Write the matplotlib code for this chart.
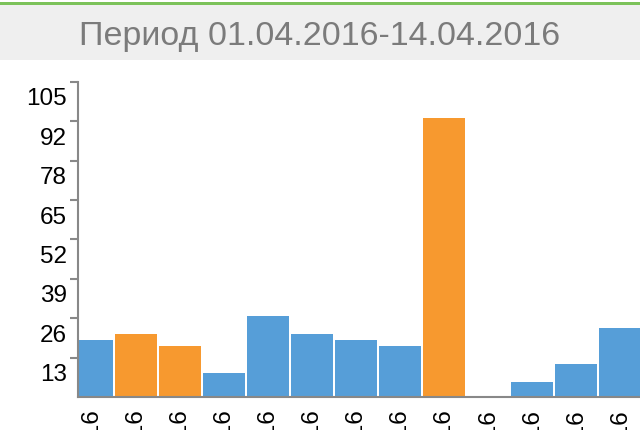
import matplotlib
matplotlib.use('Agg')
import matplotlib.pyplot as plt
from matplotlib.patches import Rectangle
from matplotlib.transforms import ScaledTranslation
import numpy as np

plt.rcParams['font.family'] = ['Liberation Sans', 'DejaVu Sans']

# Data
title = 'Период 01.04.2016-14.04.2016'
dates = ['01.04.16', '02.04.16', '03.04.16', '04.04.16', '05.04.16', '06.04.16', '07.04.16',
         '08.04.16', '09.04.16', '10.04.16', '11.04.16', '12.04.16', '13.04.16']
values = [19, 21, 17, 8, 27, 21, 19, 17, 93, 0, 5, 11, 23]
weekend = [False, True, True, False, False, False, False, False, True, False, False, False, False]
y_max = 105
y_tick_labels = ['13', '26', '39', '52', '65', '78', '92', '105']

blue = '#569ed8'
orange = '#f7992f'
axis_gray = '#888888'

W, H = 640, 430
fig = plt.figure(figsize=(W / 100, H / 100), dpi=100)

# header band with green line on top
fig.patches.append(Rectangle((0, 1 - 60 / H), 1, 55 / H, transform=fig.transFigure,
                             facecolor='#efefef', edgecolor='none', zorder=0))
fig.patches.append(Rectangle((0, 1 - 5 / H), 1, 2.5 / H, transform=fig.transFigure,
                             facecolor='#7cc25a', edgecolor='none', zorder=1))
fig.text(0.5, 1 - 45 / H, title, ha='center', va='baseline', fontsize=24.5, color='#7b7b7b')

ax = fig.add_axes([78 / W, 1 - 397 / H, 1 - 78 / W, 315 / H])
x = np.arange(len(values))
colors = [orange if w else blue for w in weekend]
ax.bar(x, values, width=42 / 44, color=colors, edgecolor='none', zorder=1)

ax.set_xlim(-(92 - 78) / 44, (640 - 92) / 44)
ax.set_ylim(0, y_max)
ax.set_xticks(x, dates)
ax.set_yticks([y_max * (k + 1) / len(y_tick_labels) for k in range(len(y_tick_labels))],
              y_tick_labels)

for side in ('top', 'right'):
    ax.spines[side].set_visible(False)
for side in ('left', 'bottom'):
    ax.spines[side].set_color(axis_gray)
    ax.spines[side].set_linewidth(1.5)
    ax.spines[side].set_zorder(3)

ax.tick_params(axis='y', length=6, width=1.5, color=axis_gray, pad=2, labelsize=17.5)
ax.tick_params(axis='x', length=0, pad=9, labelsize=17.5, labelrotation=90)

# y labels sit below their tick marks
offset = ScaledTranslation(0, -0.15, fig.dpi_scale_trans)
for lbl in ax.get_yticklabels():
    lbl.set_transform(lbl.get_transform() + offset)

fig.savefig('out.png', dpi=100, facecolor='white')
